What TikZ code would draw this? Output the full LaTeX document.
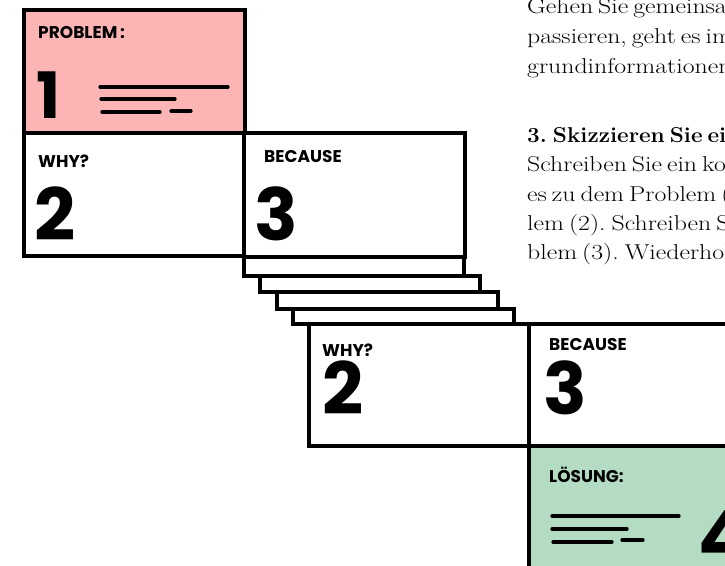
\documentclass[tikz,border=0pt]{standalone}
\usepackage{fontspec}
\setmainfont{Latin Modern Roman}[FakeStretch=1.2]
\newfontfamily\headfont{Latin Modern Roman}[FakeStretch=1.05]
\newfontfamily\hand{Poppins}
\definecolor{probpink}{RGB}{252,180,180}
\definecolor{solgreen}{RGB}{179,220,195}
\newcommand{\tightwords}{\spaceskip=5pt\relax\xspaceskip=6pt\relax}
\tikzset{
  card/.style={draw=black, line width=3.2pt, fill=white, rectangle, inner sep=0pt, outer sep=0pt, anchor=north west},
  lbl/.style={anchor=base west, inner sep=0pt, font=\hand\bfseries\fontsize{17}{17}\selectfont},
  num/.style={anchor=base west, inner sep=0pt, font=\hand\bfseries\fontsize{72}{72}\selectfont},
  txt/.style={anchor=base west, inner sep=0pt, font=\fontsize{21.5}{28}\selectfont},
  scrib/.style={line width=3.2pt, line cap=round}
}
\begin{document}
\begin{tikzpicture}[x=1pt,y=-1pt]
\useasboundingbox (0,0) rectangle (725,565);
\clip (0,0) rectangle (725,565);
% text column
\node[txt] (t1) at (527,13) {\tightwords Gehen Sie gemeinsam};
\node[txt] (t2) at (527,43) {\tightwords passieren, geht es im};
\node[txt] (t3) at (527,73) {\tightwords grundinformationen};
\node[txt, font=\headfont\bfseries\fontsize{21.5}{28}\selectfont] (t4) at (527,142) {\tightwords 3. Skizzieren Sie ein};
\node[txt] (t5) at (527,171) {\tightwords Schreiben Sie ein kon};
\node[txt] (t6) at (527,201) {\tightwords es zu dem Problem (1)};
\node[txt] (t7) at (527,230) {\tightwords lem (2). Schreiben Sie};
\node[txt] (t8) at (527,259) {\tightwords blem (3). Wiederholen};
% cards
\node[card, fill=probpink, minimum width=221pt, minimum height=123pt] (prob) at (24,10) {};
\node[card, minimum width=220pt, minimum height=123pt] (why1) at (24,133) {};
\node[card, minimum width=221pt, minimum height=124pt] (bec1) at (244,133) {};
\node[card, minimum width=220pt, minimum height=19pt] (lay1) at (244,257) {};
\node[card, minimum width=220pt, minimum height=16pt] (lay2) at (260,276) {};
\node[card, minimum width=221pt, minimum height=17pt] (lay3) at (277,292) {};
\node[card, minimum width=221pt, minimum height=15pt] (lay4) at (293,309) {};
\node[card, minimum width=220pt, minimum height=122pt] (why2) at (309,324) {};
\node[card, minimum width=230pt, minimum height=122pt] (bec2) at (529,324) {};
\node[card, fill=solgreen, minimum width=230pt, minimum height=140pt] (sol) at (529,446) {};
% labels
\node[lbl] (lprob) at (38,38) {PROBLEM\,:};
\node[lbl] (lwhy1) at (38,167) {WHY?};
\node[lbl] (lbec1) at (264,162) {BECAUSE};
\node[lbl] (lwhy2) at (322,356) {WHY?};
\node[lbl] (lbec2) at (549,350) {BECAUSE};
\node[lbl] (lsol) at (549,482) {LÖSUNG:};
% numbers
\node[num, font=\hand\bfseries\fontsize{64}{64}\selectfont] (n1) at (36,118) {1};
\node[num] (n2a) at (34,240) {2};
\node[num] (n3a) at (254,240) {3};
\node[num] (n2b) at (322,414) {2};
\node[num] (n3b) at (543,414) {3};
\node[num] (n4) at (698,562) {4};
% scribble lines
\draw[scrib] (100,87) -- (228,87);
\draw[scrib] (101,99) -- (175,99);
\draw[scrib] (102,112) -- (160,112);
\draw[scrib] (171,111) -- (191,111);
\draw[scrib] (552,516) -- (679,516);
\draw[scrib] (552,529) -- (627,529);
\draw[scrib] (553,542) -- (612,542);
\draw[scrib] (622,540) -- (643,540);
\end{tikzpicture}
\end{document}
